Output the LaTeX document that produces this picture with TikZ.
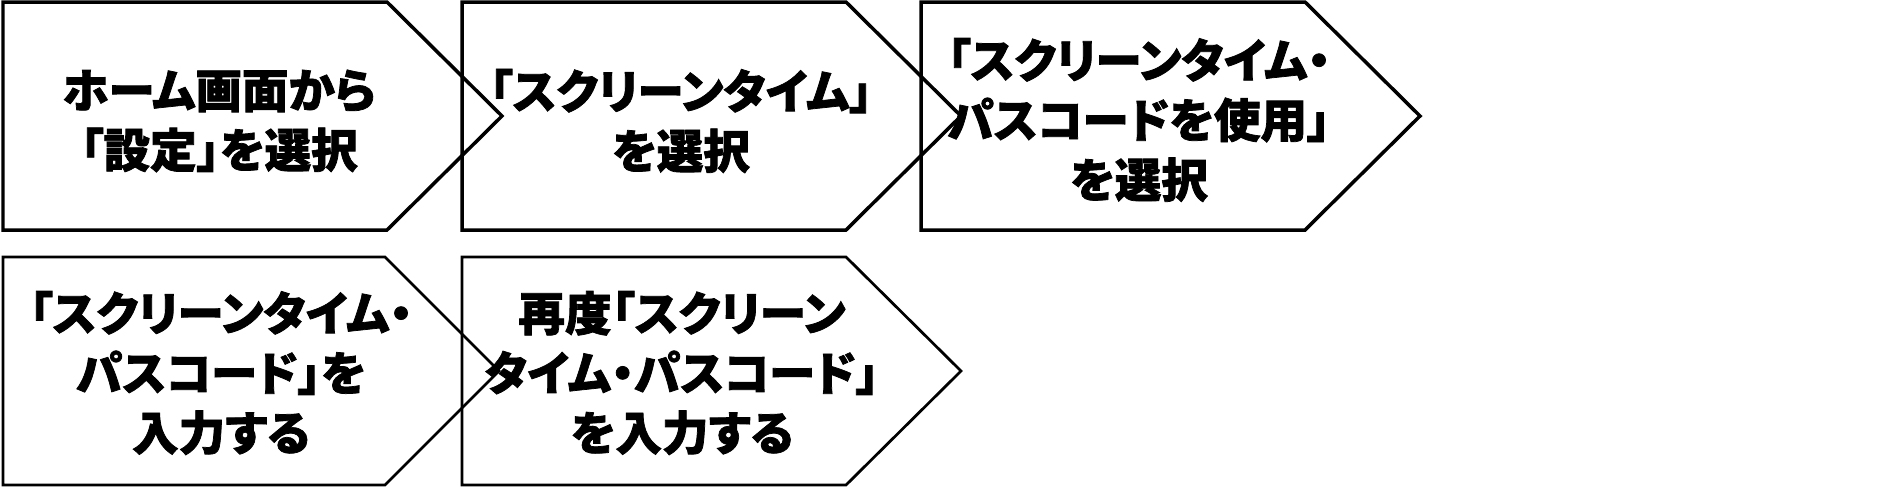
\documentclass[tikz,border=0pt]{standalone}
\usepackage{fontspec}
\setmainfont{Noto Sans CJK JP}[RawFeature={+palt}, BoldFeatures={FakeBold=1.6}]
\usepackage{tikz}
\usetikzlibrary{positioning}

\tikzset{
  khung/.style={draw=black, line width=0.07cm, line join=miter},
  khungmanh/.style={draw=black, line width=0.055cm, line join=miter},
  chu/.style={align=center, inner sep=0pt, font=\bfseries\fontsize{26.5}{34}\selectfont}
}

\begin{document}
\begin{tikzpicture}[x=0.02cm, y=-0.02cm]

            \useasboundingbox (0,0) rectangle (1878,491);

            % Vẽ hộp 1
            \draw[khung] (3,2) -- (387,2) -- (502,116) -- (387,230) -- (3,230) -- cycle;
            \node[chu] (buoc1) at (219,121) {ホーム画面から\\「設定」を選択};

            % Vẽ hộp 2
            \draw[khung] (462,2) -- (846,2) -- (961,116) -- (846,230) -- (462,230) -- cycle;
            \node[chu] (buoc2) at (681,121) {「スクリーンタイム」\\を選択};

            % Vẽ hộp 3
            \draw[khung] (921,2) -- (1305,2) -- (1420,116) -- (1305,230) -- (921,230) -- cycle;
            \node[chu] (buoc3) at (1139,120) {「スクリーンタイム・\\パスコードを使用」\\を選択};

            % Vẽ hộp 4
            \draw[khungmanh] (3,257) -- (385,257) -- (499,371) -- (385,485) -- (3,485) -- cycle;
            \node[chu] (buoc4) at (221,373) {「スクリーンタイム・\\パスコード」を\\入力する};

            % Vẽ hộp 5
            \draw[khungmanh] (462,257) -- (846,257) -- (961,371) -- (846,485) -- (462,485) -- cycle;
            \node[chu] (buoc5) at (682,373) {再度「スクリーン\\タイム・パスコード」\\を入力する};

\end{tikzpicture}
\end{document}
